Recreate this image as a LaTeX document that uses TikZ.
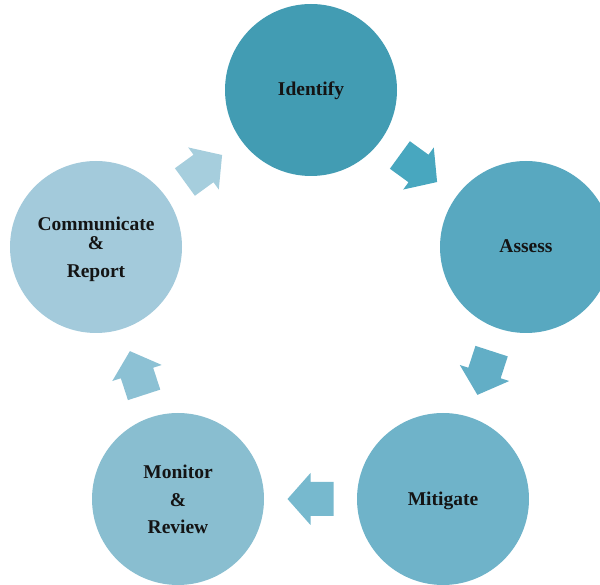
\documentclass[tikz,border=0pt]{standalone}
\usepackage{fontspec}
\setmainfont{Liberation Serif}
\usetikzlibrary{calc}

% stage colours, darkest to lightest
\definecolor{cIdentify}{RGB}{66,156,179}
\definecolor{cAssess}{RGB}{88,168,192}
\definecolor{cMitigate}{RGB}{111,179,201}
\definecolor{cMonitor}{RGB}{137,190,208}
\definecolor{cReport}{RGB}{163,202,219}
% block arrow colours
\definecolor{aOne}{RGB}{72,167,191}
\definecolor{aTwo}{RGB}{98,174,198}
\definecolor{aThree}{RGB}{119,185,206}
\definecolor{aFour}{RGB}{140,193,212}
\definecolor{aFive}{RGB}{166,206,221}
\definecolor{txt}{RGB}{20,20,20}

\tikzset{
  stage/.style={circle, minimum size=172pt, inner sep=0pt, draw=none},
  lbl/.style={anchor=base, text=txt, font=\fontsize{19.5}{23}\selectfont\bfseries, inner sep=0pt},
  cyclearrow/.pic={
    \fill[pic actions] (-23,-17) -- (0,-17) -- (0,-26) -- (23,0) -- (0,26) -- (0,17) -- (-23,17) -- cycle;
  }
}

\begin{document}
\begin{tikzpicture}[x=1pt,y=1pt]
  \useasboundingbox (0,0) rectangle (600,584);
  \clip (0,0) rectangle (600,584);

  % the five stages of the cycle
  \node[stage, fill=cIdentify] (id) at (311,494) {};
  \node[stage, fill=cAssess]   (as) at (526,337) {};
  \node[stage, fill=cMitigate] (mi) at (443,85)  {};
  \node[stage, fill=cMonitor]  (mo) at (178,85)  {};
  \node[stage, fill=cReport]   (cr) at (96,337)  {};

  % stage labels
  \node[lbl] (tid) at ([yshift=-6pt]id.center) {Identify};
  \node[lbl] (tas) at ([yshift=-6pt]as.center) {Assess};
  \node[lbl] (tmi) at ([yshift=-7pt]mi.center) {Mitigate};
  \node[lbl] (tmo1) at ([yshift=20.7pt]mo.center) {Monitor};
  \node[lbl] (tmo2) at ([yshift=-7.7pt]mo.center) {\&};
  \node[lbl] (tmo3) at ([yshift=-34.3pt]mo.center) {Review};
  \node[lbl] (tcr1) at ([yshift=16.3pt]cr.center) {Communicate};
  \node[lbl] (tcr2) at ([yshift=-3pt]cr.center) {\&};
  \node[lbl] (tcr3) at ([yshift=-30.7pt]cr.center) {Report};

  % block arrows between consecutive stages
  \pic[fill=aOne,   rotate=-36]  at ($(id)!0.5!(as)$) {cyclearrow};
  \pic[fill=aTwo,   rotate=-108] at ($(as)!0.5!(mi)$) {cyclearrow};
  \pic[fill=aThree, rotate=180]  at ($(mi)!0.5!(mo)$) {cyclearrow};
  \pic[fill=aFour,  rotate=108]  at ($(mo)!0.5!(cr)$) {cyclearrow};
  \pic[fill=aFive,  rotate=36]   at ($(cr)!0.5!(id)$) {cyclearrow};
\end{tikzpicture}
\end{document}
